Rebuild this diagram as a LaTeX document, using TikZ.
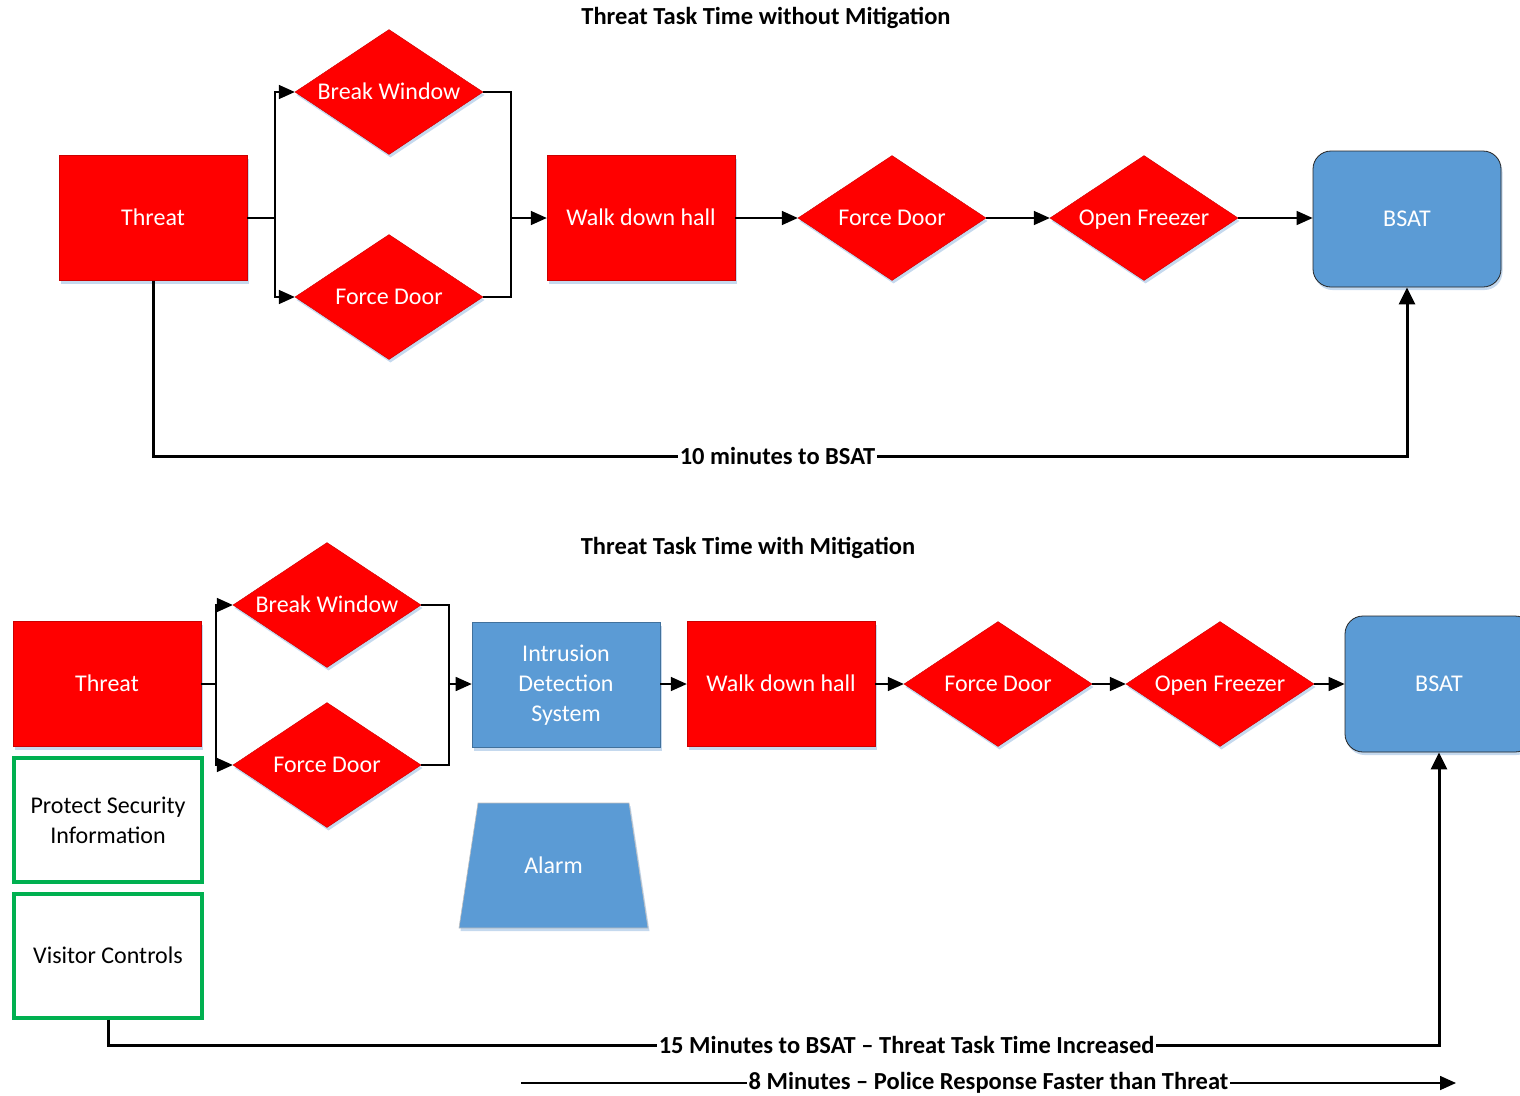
\documentclass[tikz,border=0pt]{standalone}
\usepackage{fontspec}
\setmainfont{Carlito}
\usetikzlibrary{shapes.geometric,shadows,arrows.meta}
\definecolor{tred}{HTML}{FF0000}
\definecolor{tblue}{HTML}{5B9BD5}
\definecolor{tblueedge}{HTML}{41719C}
\definecolor{tgreen}{HTML}{00B050}
\definecolor{shadowblue}{HTML}{C5D9EE}
\begin{document}
\begin{tikzpicture}[x=1pt,y=-1pt,
  every node/.style={font=\fontsize{24}{30}\selectfont},
  shad/.style={drop shadow={shadow xshift=1.5pt,shadow yshift=-3pt,fill=shadowblue,opacity=1}},
  one/.style={text height=15.5pt,text depth=0pt},
  redbox/.style={rectangle,fill=tred,draw=tred!80!black,line width=0.4pt,minimum width=188pt,minimum height=125pt,inner sep=0pt,text=white,shad},
  reddia/.style={diamond,fill=tred,draw=tred!80!black,line width=0.4pt,minimum width=188pt,minimum height=125pt,inner sep=0pt,text=white,shad,one},
  bluebox/.style={rectangle,fill=tblue,draw=tblueedge,line width=0.6pt,minimum width=188pt,minimum height=125pt,inner sep=0pt,text=white,shad},
  bsat/.style={rectangle,rounded corners=18pt,fill=tblue,draw=black!85,line width=0.8pt,minimum width=188pt,minimum height=136pt,inner sep=0pt,text=white,shad,one},
  greenbox/.style={rectangle,draw=tgreen,line width=3.2pt,minimum width=188pt,minimum height=124pt,inner sep=0pt,text=black,align=center},
  titletext/.style={font=\fontsize{24.5}{29}\selectfont\bfseries},
  conn/.style={line width=1.6pt,black},
  arr/.style={conn,-{Triangle[length=16pt,width=14pt]}},
  bigarr/.style={line width=3pt,black,-{Triangle[length=17pt,width=16pt]}},
  lbl/.style={fill=white,inner sep=1.5pt,font=\fontsize{24.5}{29}\selectfont\bfseries}
]
\useasboundingbox (0,0) rectangle (1520,1095);

% ---------- Top ----------
\node[titletext] (title1) at (766,18) {Threat Task Time without Mitigation};
\node[redbox,one] (T1) at (153,218) {Threat};
\node[reddia] (BW1) at (389,92) {\makebox[0pt]{Break Window}};
\node[reddia] (FD1) at (389,297) {\makebox[0pt]{Force Door}};
\node[redbox,one] (WH1) at (641,218) {Walk down hall};
\node[reddia] (FD1b) at (892,218) {\makebox[0pt]{Force Door}};
\node[reddia] (OF1) at (1144,218) {\makebox[0pt]{Open Freezer}};
\node[bsat] (B1) at (1407,219) {BSAT};
\coordinate (fork1) at (275,218);
\coordinate (merge1) at (511,218);

\draw[conn] (T1.east) -- (fork1);
\draw[arr] (fork1) |- (BW1.west);
\draw[arr] (fork1) |- (FD1.west);
\draw[conn] (BW1.east) -| (merge1);
\draw[conn] (FD1.east) -| (merge1);
\draw[arr] (merge1) -- (WH1.west);
\draw[arr] (WH1.east) -- (FD1b.west);
\draw[arr] (FD1b.east) -- (OF1.west);
\draw[arr] (OF1.east) -- (OF1.east -| B1.west);
\draw[bigarr] (T1.south) -- (T1.south |- 0,456) -- node[lbl,pos=0.498]{10 minutes to BSAT} (B1.south |- 0,456) -- (B1.south);

% ---------- Bottom ----------
\node[titletext] (title2) at (748,548) {Threat Task Time with Mitigation};
\node[redbox,one] (T2) at (107,684) {Threat};
\node[reddia] (BW2) at (327,605) {\makebox[0pt]{Break Window}};
\node[reddia] (FD2) at (327,765) {\makebox[0pt]{Force Door}};
\node[bluebox,align=center] (IDS) at (566,685) {Intrusion\\Detection\\System};
\node[redbox,one] (WH2) at (781,684) {Walk down hall};
\node[reddia] (FD2b) at (998,684) {\makebox[0pt]{Force Door}};
\node[reddia] (OF2) at (1220,684) {\makebox[0pt]{Open Freezer}};
\node[bsat] (B2) at (1439,684) {\makebox[0pt]{BSAT}};
\node[greenbox] (PSI) at (108,820) {Protect Security\\Information};
\node[greenbox,one] (VC) at (108,956) {Visitor Controls};
\filldraw[fill=tblue,draw=black!25,line width=0.6pt,shad] (478,803) -- (629,803) -- (648,928) -- (459,928) -- cycle;
\node[text=white,one] (AL) at (553.5,865.5) {Alarm};
\coordinate (fork2) at (216,684);
\coordinate (merge2) at (449,684);

\draw[conn] (T2.east) -- (fork2);
\draw[arr] (fork2) |- (BW2.west);
\draw[arr] (fork2) |- (FD2.west);
\draw[conn] (BW2.east) -| (merge2);
\draw[conn] (FD2.east) -| (merge2);
\draw[arr] (merge2) -- (merge2 -| IDS.west);
\draw[arr] (IDS.east |- WH2.west) -- (WH2.west);
\draw[arr] (WH2.east) -- (FD2b.west);
\draw[arr] (FD2b.east) -- (OF2.west);
\draw[arr] (OF2.east) -- (B2.west);
\draw[bigarr] (VC.south) -- (VC.south |- 0,1045) -- node[lbl,pos=0.6]{15 Minutes to BSAT – Threat Task Time Increased} (B2.south |- 0,1045) -- (B2.south);

\coordinate (pstart) at (521,1083);
\coordinate (pend) at (1456,1083);
\draw[conn,-{Triangle[length=16pt,width=14pt]}] (pstart) -- node[lbl,pos=0.5]{8 Minutes – Police Response Faster than Threat} (pend);
\end{tikzpicture}
\end{document}
